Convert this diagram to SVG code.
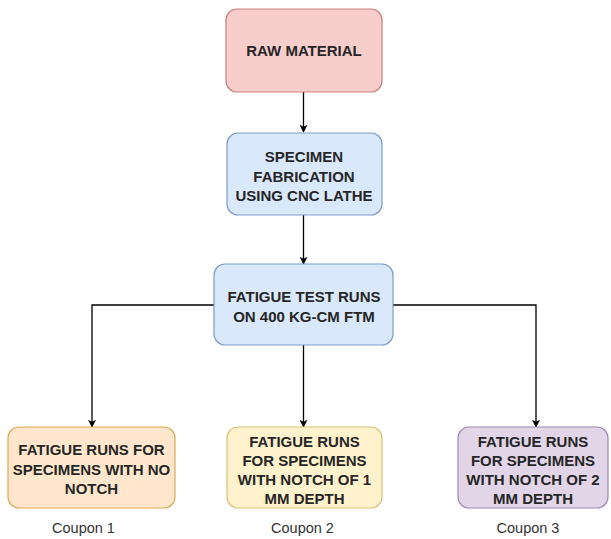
<svg xmlns="http://www.w3.org/2000/svg" width="611" height="539" viewBox="0 0 611 539">
  <style>
    .box { stroke-width: 1.2; }
    .pink { fill: #f8cecc; stroke: #c9817e; }
    .blue { fill: #dae8fc; stroke: #7d9cc8; }
    .orange { fill: #ffe6cc; stroke: #dcaa55; }
    .yellow { fill: #fff2cc; stroke: #d9c07a; }
    .purple { fill: #e1d5e7; stroke: #a288b1; }
    .t { font-family: "Liberation Sans", Arial, sans-serif; font-size: 15px; font-weight: bold; fill: #262626; text-anchor: middle; }
    .lbl { font-family: "Liberation Sans", Arial, sans-serif; font-size: 14.5px; fill: #333333; text-anchor: middle; }
    .edge { fill: none; stroke: #000000; stroke-width: 1.3; }
  </style>
  <defs>
    <marker id="arrow" viewBox="0 0 10 10" refX="9" refY="5" markerWidth="8" markerHeight="8" markerUnits="userSpaceOnUse" orient="auto">
      <path d="M0,0 L10,5 L0,10 L2.5,5 Z" fill="#000000"/>
    </marker>
  </defs>
  <rect width="611" height="539" fill="#ffffff"/>

  <g id="connectors">
    <path class="edge" d="M303.5,92 V132" marker-end="url(#arrow)"/>
    <path class="edge" d="M303.5,215 V264" marker-end="url(#arrow)"/>
    <path class="edge" d="M303.5,345 V427" marker-end="url(#arrow)"/>
    <path class="edge" d="M214,305 H92 V427" marker-end="url(#arrow)"/>
    <path class="edge" d="M393,305 H536 V427" marker-end="url(#arrow)"/>
  </g>

  <g id="raw-material">
    <rect class="box pink" x="226" y="9" width="156" height="83" rx="11"/>
    <text class="t" x="304" y="56">RAW MATERIAL</text>
  </g>

  <g id="specimen-fabrication">
    <rect class="box blue" x="227" y="133" width="155" height="82" rx="11"/>
    <text class="t" x="304" y="162">SPECIMEN</text>
    <text class="t" x="304" y="181.5">FABRICATION</text>
    <text class="t" x="304" y="201">USING CNC LATHE</text>
  </g>

  <g id="fatigue-test">
    <rect class="box blue" x="214" y="264" width="179" height="81" rx="11"/>
    <text class="t" x="304" y="302">FATIGUE TEST RUNS</text>
    <text class="t" x="304" y="322">ON 400 KG-CM FTM</text>
  </g>

  <g id="coupon1">
    <rect class="box orange" x="8" y="427" width="167" height="81" rx="11"/>
    <text class="t" x="91.5" y="455">FATIGUE RUNS FOR</text>
    <text class="t" x="91.5" y="474.5">SPECIMENS WITH NO</text>
    <text class="t" x="91.5" y="494">NOTCH</text>
    <text class="lbl" x="83.5" y="533">Coupon 1</text>
  </g>

  <g id="coupon2">
    <rect class="box yellow" x="227" y="427" width="155" height="81" rx="11"/>
    <text class="t" x="304.5" y="447">FATIGUE RUNS</text>
    <text class="t" x="304.5" y="466">FOR SPECIMENS</text>
    <text class="t" x="304.5" y="485">WITH NOTCH OF 1</text>
    <text class="t" x="304.5" y="503.5">MM DEPTH</text>
    <text class="lbl" x="302.5" y="533">Coupon 2</text>
  </g>

  <g id="coupon3">
    <rect class="box purple" x="458" y="427" width="150" height="81" rx="11"/>
    <text class="t" x="533" y="447">FATIGUE RUNS</text>
    <text class="t" x="533" y="466">FOR SPECIMENS</text>
    <text class="t" x="533" y="485">WITH NOTCH OF 2</text>
    <text class="t" x="533" y="503.5">MM DEPTH</text>
    <text class="lbl" x="528" y="533">Coupon 3</text>
  </g>
</svg>
